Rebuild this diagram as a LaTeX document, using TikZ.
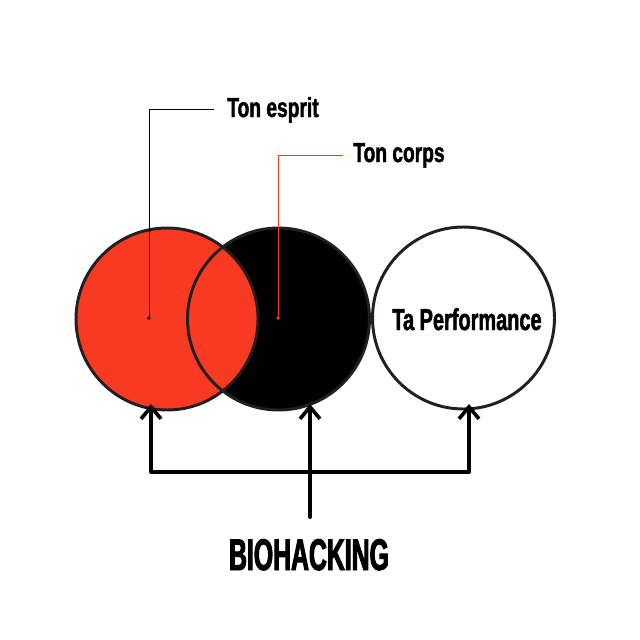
\documentclass[tikz,border=0pt]{standalone}
\usepackage{fontspec}
\usetikzlibrary{arrows.meta}
\newfontfamily\labelfont[FakeStretch=0.70,FakeBold=1.6]{Liberation Sans}
\newfontfamily\perffont[FakeStretch=0.66,FakeBold=1.6]{Liberation Sans}
\newfontfamily\titlefont[FakeStretch=0.56,FakeBold=2.2]{Liberation Sans}
\definecolor{vennred}{RGB}{249,58,35}
\definecolor{ringgray}{RGB}{35,31,32}
\tikzset{
  ring/.style={circle,minimum size=182*0.025cm,inner sep=0pt,draw=ringgray,line width=2.1pt},
  leader/.style={line width=0.6pt},
  arrowline/.style={line width=2.8pt,line cap=round,line join=round,
    arrows={Straight Barb[length=0.3cm,width=0.5cm,line width=2.6pt]-Straight Barb[length=0.3cm,width=0.5cm,line width=2.6pt]}},
  stemline/.style={line width=2.8pt,line cap=round,
    -{Straight Barb[length=0.3cm,width=0.5cm,line width=2.6pt]}},
}
\begin{document}
\begin{tikzpicture}[x=0.025cm,y=-0.025cm]
  \useasboundingbox (0,0) rectangle (640,640);
  % circles: fills first, then outlines
  \node[circle,minimum size=182*0.025cm,inner sep=0pt,fill=black] (corps) at (278.5,319) {};
  \node[circle,minimum size=182*0.025cm,inner sep=0pt,fill=vennred] (esprit) at (167,319) {};
  \node[ring] at (corps) {};
  \node[ring] at (esprit) {};
  \node[ring] (perf) at (463.5,318) {};
  \node[anchor=base,font=\perffont\bfseries\fontsize{21.5}{24}\selectfont] (perftxt) at (467,330) {Ta Performance};
  % labels
  \node[anchor=base west,inner sep=0pt,font=\labelfont\bfseries\fontsize{19.5}{22}\selectfont] (txtE) at (227,117) {Ton esprit};
  \node[anchor=base west,inner sep=0pt,font=\labelfont\bfseries\fontsize{19.5}{22}\selectfont] (txtC) at (353,162) {Ton corps};
  \coordinate (dotE) at (149,318);
  \coordinate (dotC) at (278,318);
  \draw[leader,shorten >=13*0.025cm] (dotE) |- (txtE.west);
  \draw[leader,vennred,shorten >=10*0.025cm] (dotC) |- (txtC.west);
  \fill (dotE) circle (1.8);
  \fill[vennred] (dotC) circle (1.8);
  % arrows
  \node[anchor=base,inner sep=0pt,font=\titlefont\bfseries\fontsize{31.5}{34}\selectfont] (bio) at (309,570) {BIOHACKING};
  \coordinate (tipL) at (151,404);
  \coordinate (tipR) at (469,404);
  \coordinate (barL) at (151,472);
  \coordinate (barR) at (469,472);
  \coordinate (stem) at (310,517);
  \coordinate (tipM) at (310,404);
  \draw[arrowline] (tipL) -- (barL) -- (barR) -- (tipR);
  \draw[stemline] (stem) -- (tipM);
\end{tikzpicture}
\end{document}
